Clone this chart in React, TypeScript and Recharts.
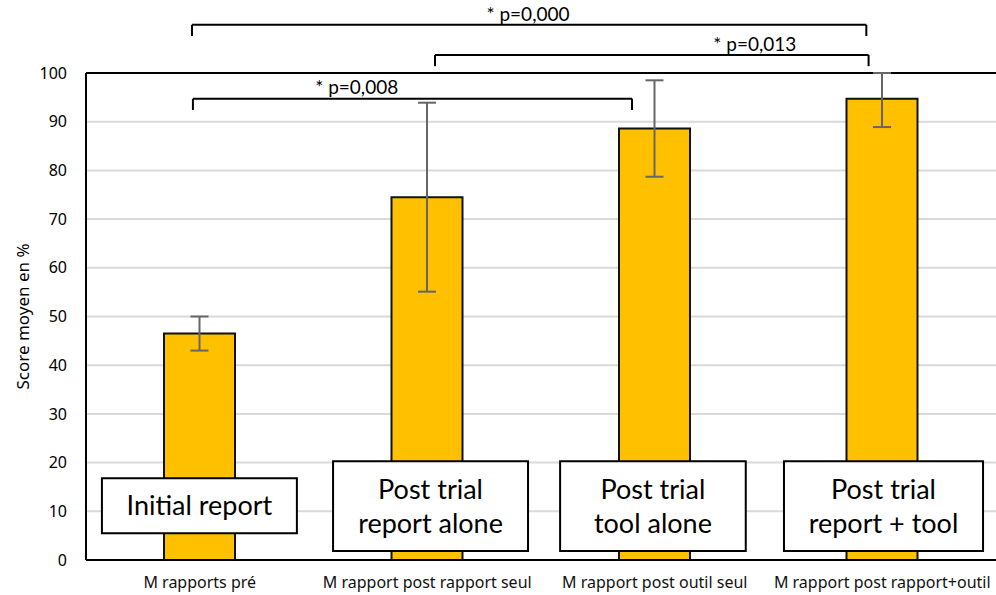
import React from 'react';
import {
  BarChart,
  Bar,
  XAxis,
  YAxis,
  CartesianGrid,
  ErrorBar,
  ReferenceLine,
  ReferenceArea,
  ReferenceDot,
} from 'recharts';

const categories = [
  'M rapports pré',
  'M rapport post rapport seul',
  'M rapport post outil seul',
  'M rapport post rapport+outil',
];
const positions = [0.5, 1.5, 2.5, 3.5];
const scores = [46.5, 74.5, 88.6, 94.7];
const errLow = [3.5, 19.4, 9.9, 5.8];
const errHigh = [3.5, 19.4, 9.9, 5.3];
const yTicks = [0, 10, 20, 30, 40, 50, 60, 70, 80, 90, 100];

// boxes drawn over the bars (x on a 0..4 category scale, y in %)
const boxLines = [
  ['Initial report'],
  ['Post trial', 'report alone'],
  ['Post trial', 'tool alone'],
  ['Post trial', 'report + tool'],
];
const boxX1 = [0.07, 1.086, 2.084, 3.068];
const boxX2 = [0.927, 1.943, 2.9, 3.943];
const boxY1 = [5.5, 1.85, 1.85, 1.85];
const boxY2 = [16.8, 20.3, 20.3, 20.3];

// significance brackets
const bracketX1 = [0.466, 1.534, 0.47];
const bracketX2 = [3.43, 3.44, 2.4];
const bracketTop = [109.9, 103.7, 94.7];
const bracketFoot = [107.6, 101.4, 92.4];
const pLabels = ['* p=0,000', '* p=0,013', '* p=0,008'];
const pLabelX = [1.943, 2.94, 1.19];
const pLabelY = [112.1, 106.0, 97.1];

const data = categories.map((name, i) => ({
  name,
  pos: positions[i],
  score: scores[i],
  err: [errLow[i], errHigh[i]],
}));

const axisFont = '"Noto Sans", sans-serif';
const boxFont = 'Lato, "Noto Sans", sans-serif';

function BoxLabel({ viewBox, lines }: any) {
  if (!viewBox) return null;
  const cx = viewBox.x + viewBox.width / 2;
  const cy = viewBox.y + viewBox.height / 2;
  const lh = 34;
  const start = cy - ((lines.length - 1) * lh) / 2;
  return (
    <text textAnchor="middle" fontFamily={boxFont} fontSize={27} fill="#000">
      {lines.map((l: string, i: number) => (
        <tspan key={i} x={cx} y={start + i * lh} dy="0.35em">
          {l}
        </tspan>
      ))}
    </text>
  );
}

function YLabel({ viewBox }: any) {
  if (!viewBox) return null;
  const x = viewBox.x + 22;
  const y = viewBox.y + viewBox.height / 2;
  return (
    <text
      x={x}
      y={y}
      transform={`rotate(-90, ${x}, ${y})`}
      textAnchor="middle"
      dominantBaseline="central"
      fontFamily={axisFont}
      fontSize={17}
      fill="#000"
    >
      Score moyen en %
    </text>
  );
}

export default function App() {
  return (
    <div style={{ position: 'absolute', left: 0, top: 0, width: 996, height: 595, background: '#fff' }}>
      <BarChart width={996} height={595} data={data} margin={{ top: 73, right: 0, bottom: 0, left: 0 }}>
        <CartesianGrid xAxisId="cat" vertical={false} stroke="#d9d9d9" strokeWidth={2} />
        <XAxis
          xAxisId="cat"
          dataKey="name"
          height={35}
          tickLine={false}
          tickSize={0}
          tickMargin={17}
          axisLine={{ stroke: '#000', strokeWidth: 2 }}
          tick={{ fontFamily: axisFont, fontSize: 16, fill: '#111' }}
          interval={0}
        />
        <XAxis xAxisId="num" dataKey="pos" type="number" domain={[0, 4]} allowDataOverflow hide />
        <YAxis
          width={86}
          domain={[0, 100]}
          ticks={yTicks}
          allowDataOverflow
          tickLine={false}
          tickSize={0}
          tickMargin={19}
          axisLine={{ stroke: '#000', strokeWidth: 2 }}
          tick={{ fontFamily: axisFont, fontSize: 16, fill: '#000' }}
          label={<YLabel />}
        />
        <ReferenceLine xAxisId="cat" y={100} stroke="#000" strokeWidth={2} />
        <Bar
          xAxisId="cat"
          dataKey="score"
          fill="#FFC000"
          stroke="#111"
          strokeWidth={2}
          barSize={71}
          isAnimationActive={false}
        >
          <ErrorBar dataKey="err" width={9} stroke="#666" strokeWidth={2} direction="y" />
        </Bar>
        {boxLines.map((lines, i) => (
          <ReferenceArea
            key={`box-${i}`}
            xAxisId="num"
            x1={boxX1[i]}
            x2={boxX2[i]}
            y1={boxY1[i]}
            y2={boxY2[i]}
            fill="#fff"
            fillOpacity={1}
            stroke="#000"
            strokeWidth={2}
            zIndex={1500}
            label={<BoxLabel lines={lines} />}
          />
        ))}
        {pLabels.map((p, i) => (
          <ReferenceLine
            key={`bt-${i}`}
            xAxisId="num"
            ifOverflow="visible"
            stroke="#000"
            strokeWidth={2}
            segment={[
              { x: bracketX1[i], y: bracketTop[i] },
              { x: bracketX2[i], y: bracketTop[i] },
            ]}
          />
        ))}
        {pLabels.map((p, i) => (
          <ReferenceLine
            key={`bl-${i}`}
            xAxisId="num"
            ifOverflow="visible"
            stroke="#000"
            strokeWidth={2}
            segment={[
              { x: bracketX1[i], y: bracketTop[i] },
              { x: bracketX1[i], y: bracketFoot[i] },
            ]}
          />
        ))}
        {pLabels.map((p, i) => (
          <ReferenceLine
            key={`br-${i}`}
            xAxisId="num"
            ifOverflow="visible"
            stroke="#000"
            strokeWidth={2}
            segment={[
              { x: bracketX2[i], y: bracketTop[i] },
              { x: bracketX2[i], y: bracketFoot[i] },
            ]}
          />
        ))}
        {pLabels.map((p, i) => (
          <ReferenceDot
            key={`pl-${i}`}
            xAxisId="num"
            x={pLabelX[i]}
            y={pLabelY[i]}
            r={0}
            ifOverflow="visible"
            stroke="none"
            fill="none"
            label={{ value: p, position: 'center', fontFamily: boxFont, fontSize: 19, fill: '#000' }}
          />
        ))}
      </BarChart>
    </div>
  );
}
